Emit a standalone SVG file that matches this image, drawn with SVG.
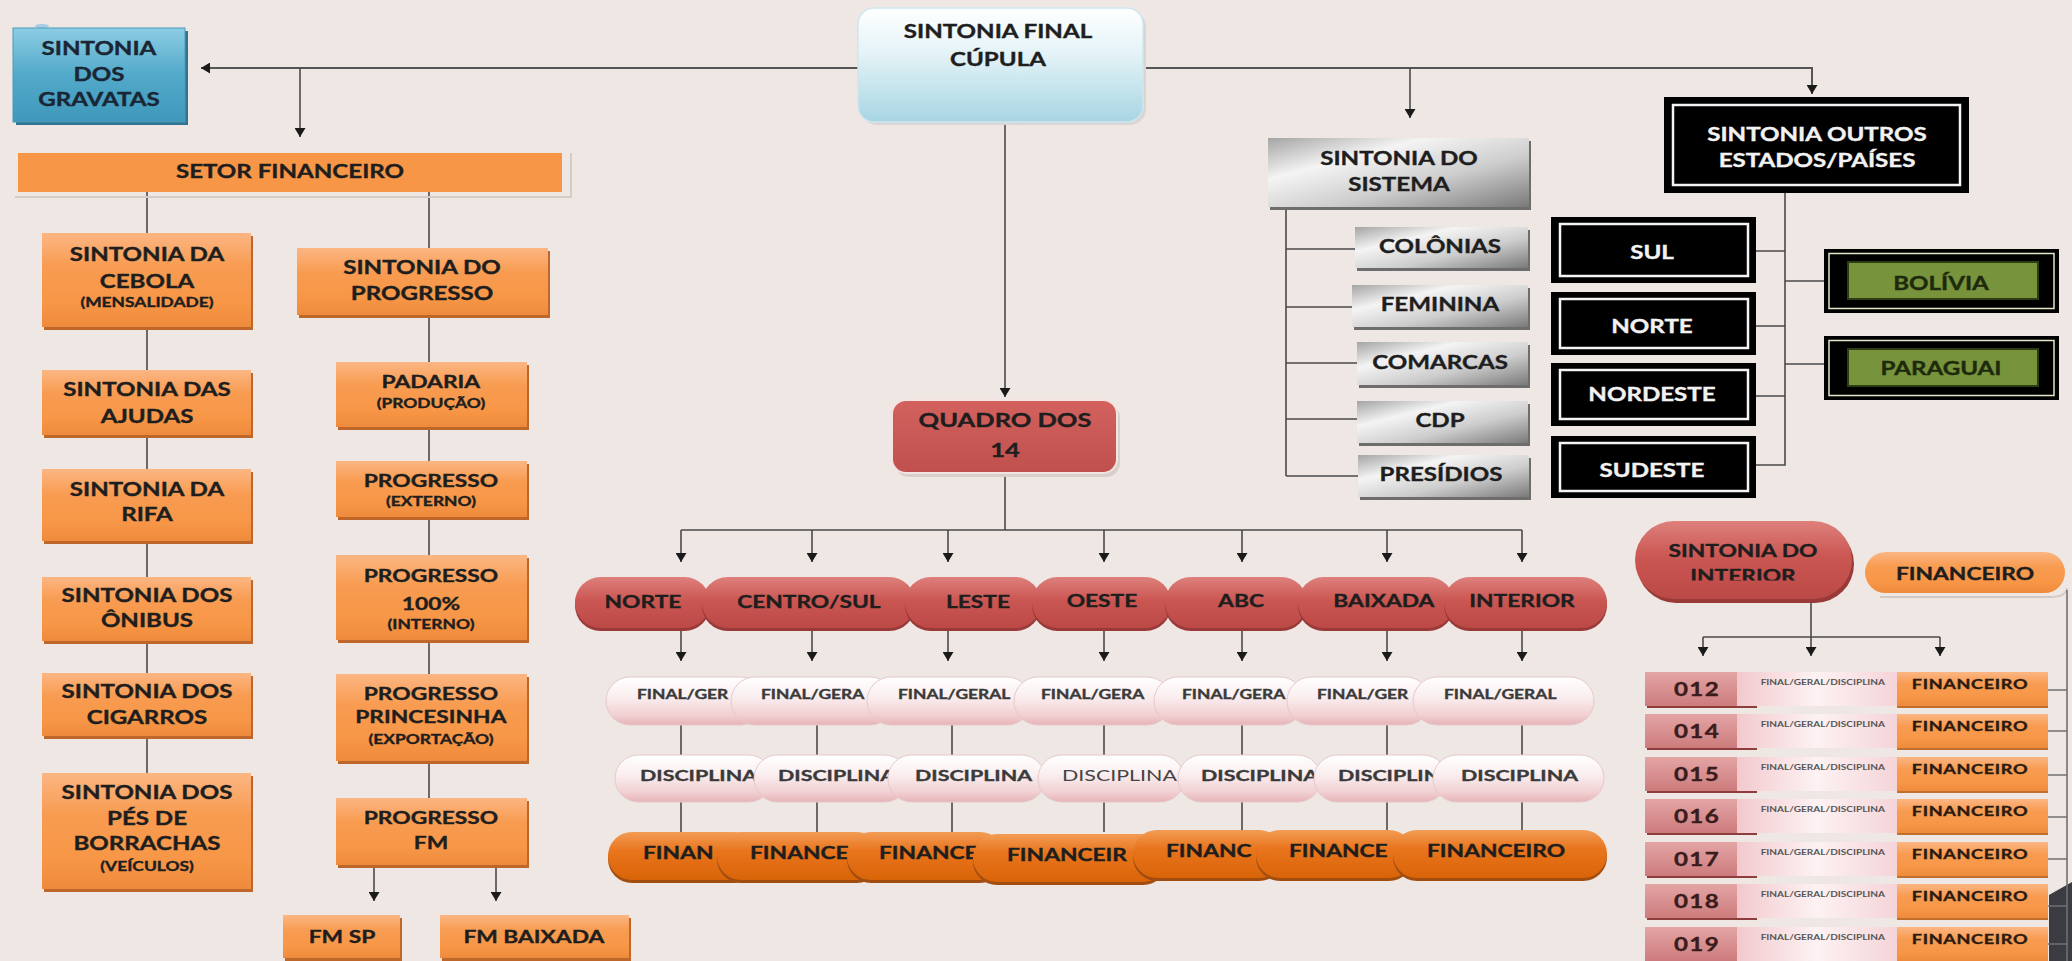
<svg xmlns="http://www.w3.org/2000/svg" width="2072" height="961" viewBox="0 0 2072 961">
<defs>
<marker id="ah" viewBox="0 0 9 11" refX="9" refY="5.5" markerWidth="9" markerHeight="11" markerUnits="userSpaceOnUse" orient="auto"><path d="M0,0 L9,5.5 L0,11 z" fill="#1a1a1a"/></marker>
<linearGradient id="gBlue" x1="0" y1="0" x2="0" y2="1"><stop offset="0" stop-color="#8ccde3"/><stop offset="0.5" stop-color="#52a9ca"/><stop offset="1" stop-color="#3f98bb"/></linearGradient>
<linearGradient id="gCup" x1="0" y1="0" x2="0" y2="1"><stop offset="0" stop-color="#ffffff"/><stop offset="0.4" stop-color="#e4f3f7"/><stop offset="1" stop-color="#a7d5e3"/></linearGradient>
<linearGradient id="gOr" x1="0" y1="0" x2="0" y2="1"><stop offset="0" stop-color="#fcb683"/><stop offset="0.35" stop-color="#f89c52"/><stop offset="0.75" stop-color="#f79646"/><stop offset="1" stop-color="#ee8a3c"/></linearGradient>
<linearGradient id="gQ" x1="0" y1="0" x2="0" y2="1"><stop offset="0" stop-color="#d3625f"/><stop offset="1" stop-color="#c0504d"/></linearGradient>
<linearGradient id="gRp" x1="0" y1="0" x2="0" y2="1"><stop offset="0" stop-color="#de807c"/><stop offset="0.45" stop-color="#cb5753"/><stop offset="1" stop-color="#bb4946"/></linearGradient>
<linearGradient id="gPk" x1="0" y1="0" x2="0" y2="1"><stop offset="0" stop-color="#ffffff"/><stop offset="0.4" stop-color="#fbeff0"/><stop offset="0.8" stop-color="#f1cfd2"/><stop offset="1" stop-color="#e6b3b7"/></linearGradient>
<linearGradient id="gDo" x1="0" y1="0" x2="0" y2="1"><stop offset="0" stop-color="#f39c55"/><stop offset="0.4" stop-color="#e8741c"/><stop offset="1" stop-color="#d96408"/></linearGradient>
<linearGradient id="gGr" x1="0" y1="0" x2="1" y2="1"><stop offset="0" stop-color="#a4a4a4"/><stop offset="0.3" stop-color="#f4f4f4"/><stop offset="0.62" stop-color="#cdcdcd"/><stop offset="1" stop-color="#7a7a7a"/></linearGradient>
<linearGradient id="gNum" x1="0" y1="0" x2="0" y2="1"><stop offset="0" stop-color="#e4a5a5"/><stop offset="1" stop-color="#cd7b7c"/></linearGradient>
<linearGradient id="gMid" x1="0" y1="0" x2="1" y2="0"><stop offset="0" stop-color="#f2c9cd"/><stop offset="0.5" stop-color="#fdf2f3"/><stop offset="1" stop-color="#f5d4d8"/></linearGradient>
<clipPath id="clipInt"><rect x="1640" y="560" width="210" height="20.5"/></clipPath>
</defs>
<style>
.t{font-family:Lato,"Open Sans","Liberation Sans",sans-serif;font-weight:700;text-anchor:middle;fill:#1e1e1e;stroke:#1e1e1e;stroke-width:0.35px;font-size:18px;transform-box:fill-box;transform-origin:50% 50%;transform:scaleX(1.34)}
.ts{text-anchor:start;transform-origin:0% 50%}
.s13{font-size:13px}
.s17{font-size:17px}
.w{fill:#f2f2f2;stroke:#f2f2f2}
.pk{fill:#3a3a3a;stroke:#3a3a3a}
.orb{fill:url(#gOr)}
.osh{fill:#bf672a}
.rsh{fill:#9a3a38}
.blk{fill:#000}
.wl{fill:none;stroke:#f4f4f4;stroke-width:2.5}
.gbx{fill:url(#gGr)}
.gsh{fill:#6d6d6d}
</style>
<rect width="2072" height="961" fill="#eee7e4"/>
<ellipse cx="42" cy="26" rx="7" ry="2" fill="#a8cce6"/>

<g id="connectors" fill="none" stroke="#4a4a4a" stroke-width="1.6">
<path d="M858,68 H201" stroke="#555" stroke-width="2" marker-end="url(#ah)"/>
<path d="M300,68 V137" marker-end="url(#ah)"/>
<path d="M1143,68 H1812 V94" stroke="#555" stroke-width="2" marker-end="url(#ah)"/>
<path d="M1410,68 V118" marker-end="url(#ah)"/>
<path d="M1005,122 V397" marker-end="url(#ah)"/>
<path d="M147,192 V773 M429,192 V798"/>
<path d="M374,865 V901" marker-end="url(#ah)"/>
<path d="M496,865 V901" marker-end="url(#ah)"/>
<path d="M1286,207 V476 M1286,249 H1355 M1286,307 H1352 M1286,363 H1357 M1286,419 H1357 M1286,476 H1358"/>
<path d="M1785,193 V465 H1756 M1756,251 H1785 M1756,326 H1785 M1756,396 H1785 M1785,281 H1824 M1785,364 H1824"/>
<path d="M1005,473 V530 M681,530 H1522"/>
<path d="M681,530 V562" marker-end="url(#ah)"/>
<path d="M812,530 V562" marker-end="url(#ah)"/>
<path d="M948,530 V562" marker-end="url(#ah)"/>
<path d="M1104,530 V562" marker-end="url(#ah)"/>
<path d="M1242,530 V562" marker-end="url(#ah)"/>
<path d="M1387,530 V562" marker-end="url(#ah)"/>
<path d="M1522,530 V562" marker-end="url(#ah)"/>
<path d="M681,628 V661" marker-end="url(#ah)"/>
<path d="M812,628 V661" marker-end="url(#ah)"/>
<path d="M948,628 V661" marker-end="url(#ah)"/>
<path d="M1104,628 V661" marker-end="url(#ah)"/>
<path d="M1242,628 V661" marker-end="url(#ah)"/>
<path d="M1387,628 V661" marker-end="url(#ah)"/>
<path d="M1522,628 V661" marker-end="url(#ah)"/>
<path d="M681,725 V755 M817,725 V755 M952,725 V755 M1104,725 V755 M1242,725 V755 M1387,725 V755 M1522,725 V755"/>
<path d="M681,802 V832 M817,802 V832 M952,802 V832 M1104,802 V832 M1242,802 V832 M1387,802 V832 M1522,802 V832"/>
<path d="M1811,599 V637 M1703,637 H1940"/>
<path d="M1703,637 V656" marker-end="url(#ah)"/>
<path d="M1811,637 V656" marker-end="url(#ah)"/>
<path d="M1940,637 V656" marker-end="url(#ah)"/>
<path d="M1880,597 H2050 Q2066,597 2067,588" stroke="#d2c9c5" stroke-width="2"/>
<polygon points="2049,895 2072,882 2072,961 2049,961" fill="#3b3b42" stroke="none"/>
<path d="M2067,590 V961 M2048,690 H2067 M2048,731 H2067 M2048,775 H2067 M2048,817 H2067 M2048,859 H2067 M2048,906 H2067 M2048,944 H2067" stroke="#707070"/>
</g>

<g id="cupula">
<rect x="861" y="11" width="285" height="114" rx="16" fill="#d9d6d6"/>
<rect x="858" y="8" width="285" height="114" rx="16" fill="url(#gCup)" stroke="#cfe6ee" stroke-width="1.5"/>
<text class="t" x="998" y="38.5">SINTONIA FINAL</text>
<text class="t" x="998" y="66.5">CÚPULA</text>
</g>

<g id="gravatas">
<rect x="16" y="31" width="172" height="94" fill="#2f7592"/>
<rect x="13" y="28" width="172" height="94" fill="url(#gBlue)" stroke="#4a9ab8"/>
<text class="t" x="99" y="55.5" style="fill:#1a2633;stroke:#1a2633">SINTONIA</text>
<text class="t" x="99" y="81.5" style="fill:#1a2633;stroke:#1a2633">DOS</text>
<text class="t" x="99" y="106.5" style="fill:#1a2633;stroke:#1a2633">GRAVATAS</text>
</g>

<g id="setor-financeiro">
<path d="M15,197 H571 V153" fill="none" stroke="#d5cbc7" stroke-width="2"/>
<rect x="18" y="153" width="544" height="39" fill="#f79646"/>
<text class="t" x="290" y="178.5">SETOR FINANCEIRO</text>
</g>

<g id="cebola">
<rect x="44" y="236" width="209" height="94" class="osh"/>
<rect x="42" y="233" width="209" height="94" class="orb"/>
<text class="t" x="147" y="261.5">SINTONIA DA</text>
<text class="t" x="147" y="288.5">CEBOLA</text>
<text class="t s13" x="147" y="307.5">(MENSALIDADE)</text>
</g>
<g id="ajudas">
<rect x="44" y="373" width="209" height="65" class="osh"/>
<rect x="42" y="370" width="209" height="65" class="orb"/>
<text class="t" x="147" y="396.5">SINTONIA DAS</text>
<text class="t" x="147" y="423.5">AJUDAS</text>
</g>
<g id="rifa">
<rect x="44" y="472" width="209" height="72" class="osh"/>
<rect x="42" y="469" width="209" height="72" class="orb"/>
<text class="t" x="147" y="496.5">SINTONIA DA</text>
<text class="t" x="147" y="521.5">RIFA</text>
</g>
<g id="onibus">
<rect x="44" y="580" width="209" height="64" class="osh"/>
<rect x="42" y="577" width="209" height="64" class="orb"/>
<text class="t" x="147" y="602.5">SINTONIA DOS</text>
<text class="t" x="147" y="627.5">ÔNIBUS</text>
</g>
<g id="cigarros">
<rect x="44" y="676" width="209" height="63" class="osh"/>
<rect x="42" y="673" width="209" height="63" class="orb"/>
<text class="t" x="147" y="698.5">SINTONIA DOS</text>
<text class="t" x="147" y="724.5">CIGARROS</text>
</g>
<g id="pes-de-borrachas">
<rect x="44" y="776" width="209" height="116" class="osh"/>
<rect x="42" y="773" width="209" height="116" class="orb"/>
<text class="t" x="147" y="799.5">SINTONIA DOS</text>
<text class="t" x="147" y="825.5">PÉS DE</text>
<text class="t" x="147" y="850.5">BORRACHAS</text>
<text class="t s13" x="147" y="871.5">(VEÍCULOS)</text>
</g>

<g id="progresso">
<rect x="299" y="251" width="251" height="67" class="osh"/>
<rect x="297" y="248" width="251" height="67" class="orb"/>
<text class="t" x="422" y="274.5">SINTONIA DO</text>
<text class="t" x="422" y="300.5">PROGRESSO</text>
</g>
<g id="padaria">
<rect x="338" y="365" width="191" height="65" class="osh"/>
<rect x="336" y="362" width="191" height="65" class="orb"/>
<text class="t s17" x="431" y="388.5">PADARIA</text>
<text class="t s13" x="431" y="408.5">(PRODUÇÃO)</text>
</g>
<g id="progresso-externo">
<rect x="338" y="464" width="191" height="56" class="osh"/>
<rect x="336" y="461" width="191" height="56" class="orb"/>
<text class="t s17" x="431" y="487">PROGRESSO</text>
<text class="t s13" x="431" y="506.5">(EXTERNO)</text>
</g>
<g id="progresso-interno">
<rect x="338" y="558" width="191" height="85" class="osh"/>
<rect x="336" y="555" width="191" height="85" class="orb"/>
<text class="t s17" x="431" y="582">PROGRESSO</text>
<text class="t s17" x="431" y="610">100%</text>
<text class="t s13" x="431" y="629.5">(INTERNO)</text>
</g>
<g id="progresso-princesinha">
<rect x="338" y="677" width="191" height="87" class="osh"/>
<rect x="336" y="674" width="191" height="87" class="orb"/>
<text class="t s17" x="431" y="700">PROGRESSO</text>
<text class="t s17" x="431" y="723">PRINCESINHA</text>
<text class="t s13" x="431" y="744.5">(EXPORTAÇÃO)</text>
</g>
<g id="progresso-fm">
<rect x="338" y="801" width="191" height="67" class="osh"/>
<rect x="336" y="798" width="191" height="67" class="orb"/>
<text class="t s17" x="431" y="824">PROGRESSO</text>
<text class="t s17" x="431" y="849">FM</text>
</g>
<g id="fm-sp">
<rect x="285" y="918" width="117" height="43" class="osh"/>
<rect x="283" y="915" width="117" height="43" class="orb"/>
<text class="t s17" x="342" y="943">FM SP</text>
</g>
<g id="fm-baixada">
<rect x="442" y="918" width="189" height="43" class="osh"/>
<rect x="440" y="915" width="189" height="43" class="orb"/>
<text class="t s17" x="534" y="943">FM BAIXADA</text>
</g>

<g id="sistema">
<rect x="1270" y="141" width="261" height="69" class="gsh"/>
<rect x="1268" y="138" width="261" height="69" class="gbx"/>
<text class="t" x="1399" y="165.5">SINTONIA DO</text>
<text class="t" x="1399" y="191.5">SISTEMA</text>
</g>
<g id="colonias">
<rect x="1357" y="230" width="173" height="41" class="gsh"/>
<rect x="1355" y="227" width="173" height="41" class="gbx"/>
<text class="t" x="1440" y="253.5">COLÔNIAS</text>
</g>
<g id="feminina">
<rect x="1354" y="288" width="176" height="42" class="gsh"/>
<rect x="1352" y="285" width="176" height="42" class="gbx"/>
<text class="t" x="1440" y="311.5">FEMININA</text>
</g>
<g id="comarcas">
<rect x="1359" y="345" width="171" height="43" class="gsh"/>
<rect x="1357" y="342" width="171" height="43" class="gbx"/>
<text class="t" x="1440" y="369.5">COMARCAS</text>
</g>
<g id="cdp">
<rect x="1359" y="404" width="171" height="42" class="gsh"/>
<rect x="1357" y="401" width="171" height="42" class="gbx"/>
<text class="t" x="1440" y="427.5">CDP</text>
</g>
<g id="presidios">
<rect x="1360" y="458" width="171" height="42" class="gsh"/>
<rect x="1358" y="455" width="171" height="42" class="gbx"/>
<text class="t" x="1441" y="481">PRESÍDIOS</text>
</g>

<g id="outros-estados">
<rect x="1664" y="97" width="305" height="96" class="blk"/>
<rect x="1673" y="105" width="287" height="80" class="wl"/>
<text class="t w" x="1817" y="141.5">SINTONIA OUTROS</text>
<text class="t w" x="1817" y="167.5">ESTADOS/PAÍSES</text>
</g>
<g id="sul">
<rect x="1551" y="217" width="205" height="66" class="blk"/>
<rect x="1560" y="224" width="188" height="52" class="wl"/>
<text class="t w" x="1652" y="259.5">SUL</text>
</g>
<g id="norte-estado">
<rect x="1551" y="292" width="205" height="63" class="blk"/>
<rect x="1560" y="299" width="188" height="49" class="wl"/>
<text class="t w" x="1652" y="333.5">NORTE</text>
</g>
<g id="nordeste">
<rect x="1551" y="363" width="205" height="63" class="blk"/>
<rect x="1560" y="370" width="188" height="49" class="wl"/>
<text class="t w" x="1652" y="401.5">NORDESTE</text>
</g>
<g id="sudeste">
<rect x="1551" y="436" width="205" height="62" class="blk"/>
<rect x="1560" y="443" width="188" height="48" class="wl"/>
<text class="t w" x="1652" y="477.5">SUDESTE</text>
</g>
<g id="bolivia">
<rect x="1824" y="249" width="235" height="64" class="blk"/>
<rect x="1829" y="253.5" width="225" height="55" fill="none" stroke="#dfe8c8" stroke-width="1.5"/>
<rect x="1848" y="262" width="190" height="37" fill="#77933c" stroke="#2f3d12" stroke-width="2"/>
<text class="t" x="1941" y="290" style="fill:#1e2a0c;stroke:#1e2a0c">BOLÍVIA</text>
</g>
<g id="paraguai">
<rect x="1824" y="336" width="235" height="64" class="blk"/>
<rect x="1829" y="340.5" width="225" height="55" fill="none" stroke="#dfe8c8" stroke-width="1.5"/>
<rect x="1848" y="349" width="190" height="37" fill="#77933c" stroke="#2f3d12" stroke-width="2"/>
<text class="t" x="1941" y="375" style="fill:#1e2a0c;stroke:#1e2a0c">PARAGUAI</text>
</g>

<g id="quadro-dos-14">
<rect x="895" y="404" width="225" height="73" rx="14" fill="#d8cfcc"/>
<rect x="892" y="400" width="225" height="73" rx="14" fill="url(#gQ)" stroke="#f3e3e1" stroke-width="2"/>
<text class="t" x="1005" y="427" style="font-size:19px">QUADRO DOS</text>
<text class="t" x="1005" y="457" style="font-size:19px">14</text>
</g>

<g id="regioes">
<g id="r-norte"><rect x="575" y="580" width="135" height="51" rx="25.5" class="rsh"/><rect x="575" y="577" width="135" height="51" rx="25.5" fill="url(#gRp)"/><text class="t s17" x="643" y="608">NORTE</text></g>
<g id="r-centro-sul"><rect x="702" y="580" width="213" height="51" rx="25.5" class="rsh"/><rect x="702" y="577" width="213" height="51" rx="25.5" fill="url(#gRp)"/><text class="t s17" x="809" y="608">CENTRO/SUL</text></g>
<g id="r-leste"><rect x="905" y="580" width="136" height="51" rx="25.5" class="rsh"/><rect x="905" y="577" width="136" height="51" rx="25.5" fill="url(#gRp)"/><text class="t s17" x="978" y="608">LESTE</text></g>
<g id="r-oeste"><rect x="1032" y="580" width="139" height="51" rx="25.5" class="rsh"/><rect x="1032" y="577" width="139" height="51" rx="25.5" fill="url(#gRp)"/><text class="t s17" x="1102" y="607">OESTE</text></g>
<g id="r-abc"><rect x="1165" y="580" width="142" height="51" rx="25.5" class="rsh"/><rect x="1165" y="577" width="142" height="51" rx="25.5" fill="url(#gRp)"/><text class="t s17" x="1241" y="607">ABC</text></g>
<g id="r-baixada"><rect x="1298" y="580" width="156" height="51" rx="25.5" class="rsh"/><rect x="1298" y="577" width="156" height="51" rx="25.5" fill="url(#gRp)"/><text class="t s17" x="1384" y="607">BAIXADA</text></g>
<g id="r-interior"><rect x="1444" y="580" width="163" height="51" rx="25.5" class="rsh"/><rect x="1444" y="577" width="163" height="51" rx="25.5" fill="url(#gRp)"/><text class="t s17" x="1522" y="607">INTERIOR</text></g>
</g>

<g id="final-geral">
<g id="fg1"><rect x="606" y="677" width="159" height="48" rx="24" fill="url(#gPk)" stroke="#e6c9cb"/><text class="t ts pk s13" x="637" y="699.5">FINAL/GER</text></g>
<g id="fg2"><rect x="731" y="677" width="163" height="48" rx="24" fill="url(#gPk)" stroke="#e6c9cb"/><text class="t ts pk s13" x="761" y="699.5">FINAL/GERA</text></g>
<g id="fg3"><rect x="867" y="677" width="164" height="48" rx="24" fill="url(#gPk)" stroke="#e6c9cb"/><text class="t ts pk s13" x="898" y="699.5">FINAL/GERAL</text></g>
<g id="fg4"><rect x="1014" y="677" width="157" height="48" rx="24" fill="url(#gPk)" stroke="#e6c9cb"/><text class="t ts pk s13" x="1041" y="699.5">FINAL/GERA</text></g>
<g id="fg5"><rect x="1154" y="677" width="150" height="48" rx="24" fill="url(#gPk)" stroke="#e6c9cb"/><text class="t ts pk s13" x="1182" y="699.5">FINAL/GERA</text></g>
<g id="fg6"><rect x="1287" y="677" width="143" height="48" rx="24" fill="url(#gPk)" stroke="#e6c9cb"/><text class="t ts pk s13" x="1317" y="699.5">FINAL/GER</text></g>
<g id="fg7"><rect x="1413" y="677" width="181" height="48" rx="24" fill="url(#gPk)" stroke="#e6c9cb"/><text class="t ts pk s13" x="1444" y="699.5">FINAL/GERAL</text></g>
</g>

<g id="disciplina">
<g id="d1"><rect x="615" y="755" width="157" height="47" rx="23.5" fill="url(#gPk)" stroke="#e6c9cb"/><text class="t ts pk" x="640" y="781" style="font-size:16px">DISCIPLINA</text></g>
<g id="d2"><rect x="754" y="755" width="154" height="47" rx="23.5" fill="url(#gPk)" stroke="#e6c9cb"/><text class="t ts pk" x="778" y="781" style="font-size:16px">DISCIPLINA</text></g>
<g id="d3"><rect x="888" y="755" width="157" height="47" rx="23.5" fill="url(#gPk)" stroke="#e6c9cb"/><text class="t ts pk" x="915" y="781" style="font-size:16px">DISCIPLINA</text></g>
<g id="d4"><rect x="1038" y="755" width="146" height="47" rx="23.5" fill="url(#gPk)" stroke="#e6c9cb"/><text class="t ts pk" x="1062" y="781" style="font-size:16px;font-weight:400;fill:#444;stroke:none">DISCIPLINA</text></g>
<g id="d5"><rect x="1178" y="755" width="143" height="47" rx="23.5" fill="url(#gPk)" stroke="#e6c9cb"/><text class="t ts pk" x="1201" y="781" style="font-size:16px">DISCIPLINA</text></g>
<g id="d6"><rect x="1314" y="755" width="133" height="47" rx="23.5" fill="url(#gPk)" stroke="#e6c9cb"/><text class="t ts pk" x="1338" y="781" style="font-size:16px">DISCIPLIN</text></g>
<g id="d7"><rect x="1433" y="755" width="171" height="47" rx="23.5" fill="url(#gPk)" stroke="#e6c9cb"/><text class="t ts pk" x="1461" y="781" style="font-size:16px">DISCIPLINA</text></g>
</g>

<g id="financeiro-regioes">
<g id="f1"><rect x="608" y="835" width="150" height="48" rx="24" fill="#a24d10"/><rect x="608" y="832" width="150" height="48" rx="24" fill="url(#gDo)"/><text class="t ts s17" x="643" y="859">FINAN</text></g>
<g id="f2"><rect x="717" y="835" width="164" height="48" rx="24" fill="#a24d10"/><rect x="717" y="832" width="164" height="48" rx="24" fill="url(#gDo)"/><text class="t ts s17" x="750" y="859">FINANCE</text></g>
<g id="f3"><rect x="847" y="835" width="157" height="48" rx="24" fill="#a24d10"/><rect x="847" y="832" width="157" height="48" rx="24" fill="url(#gDo)"/><text class="t ts s17" x="879" y="859">FINANCE</text></g>
<g id="f4"><rect x="973" y="837" width="194" height="48" rx="24" fill="#a24d10"/><rect x="973" y="834" width="194" height="48" rx="24" fill="url(#gDo)"/><text class="t ts s17" x="1007" y="861">FINANCEIR</text></g>
<g id="f5"><rect x="1133" y="833" width="150" height="48" rx="24" fill="#a24d10"/><rect x="1133" y="830" width="150" height="48" rx="24" fill="url(#gDo)"/><text class="t ts s17" x="1166" y="857">FINANC</text></g>
<g id="f6"><rect x="1256" y="833" width="157" height="48" rx="24" fill="#a24d10"/><rect x="1256" y="830" width="157" height="48" rx="24" fill="url(#gDo)"/><text class="t ts s17" x="1289" y="857">FINANCE</text></g>
<g id="f7"><rect x="1393" y="833" width="214" height="48" rx="24" fill="#a24d10"/><rect x="1393" y="830" width="214" height="48" rx="24" fill="url(#gDo)"/><text class="t ts s17" x="1427" y="857">FINANCEIRO</text></g>
</g>

<g id="sintonia-interior">
<rect x="1637" y="525" width="217" height="78" rx="39" class="rsh"/>
<rect x="1635" y="521" width="217" height="78" rx="39" fill="url(#gRp)"/>
<text class="t s17" x="1743" y="557">SINTONIA DO</text>
<g clip-path="url(#clipInt)"><text class="t s17" x="1743" y="582">INTERIOR</text></g>
</g>
<g id="financeiro-interior">
<rect x="1865" y="552" width="200" height="41" rx="20.5" fill="url(#gOr)"/>
<text class="t s17" x="1965" y="580">FINANCEIRO</text>
</g>

<g id="linhas-interior">
<g id="l012"><rect x="1647" y="704" width="110" height="4" fill="#8e3d3d"/><rect x="1897" y="704" width="151" height="4" fill="#c0702c"/><rect x="1645" y="672" width="92" height="34" fill="url(#gNum)"/><rect x="1737" y="672" width="160" height="34" fill="url(#gMid)"/><rect x="1897" y="672" width="151" height="34" class="orb"/><text class="t" x="1697" y="696.5" style="fill:#3a1c1c;stroke:#3a1c1c;letter-spacing:1px">012</text><text class="t" x="1823" y="685.5" style="font-size:7.5px;fill:#555;stroke:none">FINAL/GERAL/DISCIPLINA</text><text class="t" x="1970" y="689" style="font-size:13.5px;letter-spacing:0.5px;fill:#2a1a10;stroke:#2a1a10">FINANCEIRO</text></g>
<g id="l014"><rect x="1647" y="746" width="110" height="4" fill="#8e3d3d"/><rect x="1897" y="746" width="151" height="4" fill="#c0702c"/><rect x="1645" y="714" width="92" height="34" fill="url(#gNum)"/><rect x="1737" y="714" width="160" height="34" fill="url(#gMid)"/><rect x="1897" y="714" width="151" height="34" class="orb"/><text class="t" x="1697" y="738.5" style="fill:#3a1c1c;stroke:#3a1c1c;letter-spacing:1px">014</text><text class="t" x="1823" y="727.5" style="font-size:7.5px;fill:#555;stroke:none">FINAL/GERAL/DISCIPLINA</text><text class="t" x="1970" y="731" style="font-size:13.5px;letter-spacing:0.5px;fill:#2a1a10;stroke:#2a1a10">FINANCEIRO</text></g>
<g id="l015"><rect x="1647" y="789" width="110" height="4" fill="#8e3d3d"/><rect x="1897" y="789" width="151" height="4" fill="#c0702c"/><rect x="1645" y="757" width="92" height="34" fill="url(#gNum)"/><rect x="1737" y="757" width="160" height="34" fill="url(#gMid)"/><rect x="1897" y="757" width="151" height="34" class="orb"/><text class="t" x="1697" y="781.5" style="fill:#3a1c1c;stroke:#3a1c1c;letter-spacing:1px">015</text><text class="t" x="1823" y="770.5" style="font-size:7.5px;fill:#555;stroke:none">FINAL/GERAL/DISCIPLINA</text><text class="t" x="1970" y="774" style="font-size:13.5px;letter-spacing:0.5px;fill:#2a1a10;stroke:#2a1a10">FINANCEIRO</text></g>
<g id="l016"><rect x="1647" y="831" width="110" height="4" fill="#8e3d3d"/><rect x="1897" y="831" width="151" height="4" fill="#c0702c"/><rect x="1645" y="799" width="92" height="34" fill="url(#gNum)"/><rect x="1737" y="799" width="160" height="34" fill="url(#gMid)"/><rect x="1897" y="799" width="151" height="34" class="orb"/><text class="t" x="1697" y="823.5" style="fill:#3a1c1c;stroke:#3a1c1c;letter-spacing:1px">016</text><text class="t" x="1823" y="812.5" style="font-size:7.5px;fill:#555;stroke:none">FINAL/GERAL/DISCIPLINA</text><text class="t" x="1970" y="816" style="font-size:13.5px;letter-spacing:0.5px;fill:#2a1a10;stroke:#2a1a10">FINANCEIRO</text></g>
<g id="l017"><rect x="1647" y="874" width="110" height="4" fill="#8e3d3d"/><rect x="1897" y="874" width="151" height="4" fill="#c0702c"/><rect x="1645" y="842" width="92" height="34" fill="url(#gNum)"/><rect x="1737" y="842" width="160" height="34" fill="url(#gMid)"/><rect x="1897" y="842" width="151" height="34" class="orb"/><text class="t" x="1697" y="866.5" style="fill:#3a1c1c;stroke:#3a1c1c;letter-spacing:1px">017</text><text class="t" x="1823" y="855.5" style="font-size:7.5px;fill:#555;stroke:none">FINAL/GERAL/DISCIPLINA</text><text class="t" x="1970" y="859" style="font-size:13.5px;letter-spacing:0.5px;fill:#2a1a10;stroke:#2a1a10">FINANCEIRO</text></g>
<g id="l018"><rect x="1647" y="916" width="110" height="4" fill="#8e3d3d"/><rect x="1897" y="916" width="151" height="4" fill="#c0702c"/><rect x="1645" y="884" width="92" height="34" fill="url(#gNum)"/><rect x="1737" y="884" width="160" height="34" fill="url(#gMid)"/><rect x="1897" y="884" width="151" height="34" class="orb"/><text class="t" x="1697" y="908.5" style="fill:#3a1c1c;stroke:#3a1c1c;letter-spacing:1px">018</text><text class="t" x="1823" y="897.5" style="font-size:7.5px;fill:#555;stroke:none">FINAL/GERAL/DISCIPLINA</text><text class="t" x="1970" y="901" style="font-size:13.5px;letter-spacing:0.5px;fill:#2a1a10;stroke:#2a1a10">FINANCEIRO</text></g>
<g id="l019"><rect x="1645" y="927" width="92" height="34" fill="url(#gNum)"/><rect x="1737" y="927" width="160" height="34" fill="url(#gMid)"/><rect x="1897" y="927" width="151" height="34" class="orb"/><text class="t" x="1697" y="951.5" style="fill:#3a1c1c;stroke:#3a1c1c;letter-spacing:1px">019</text><text class="t" x="1823" y="940.5" style="font-size:7.5px;fill:#555;stroke:none">FINAL/GERAL/DISCIPLINA</text><text class="t" x="1970" y="944" style="font-size:13.5px;letter-spacing:0.5px;fill:#2a1a10;stroke:#2a1a10">FINANCEIRO</text></g>
</g>
</svg>
